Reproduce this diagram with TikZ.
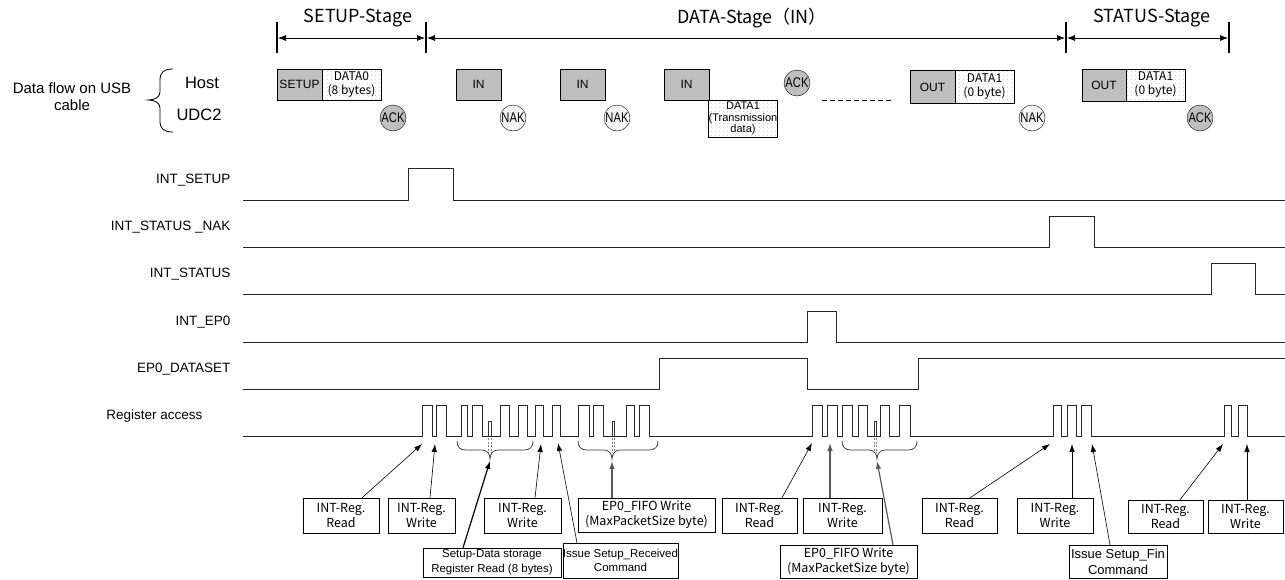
\documentclass[tikz,border=0pt]{standalone}
\usepackage{fontspec}
\setmainfont{Liberation Sans}
\newfontfamily\jp{Noto Sans CJK JP}
\usetikzlibrary{arrows.meta,patterns.meta}
\newcommand{\fs}[2]{\fontsize{#1}{#2}\selectfont}
\newcommand{\hbr}[3]{%
  \draw[line width=0.7pt,black!80] (#1,441) .. controls (#1,447) and ({#1+3},450) .. ({#1+9},450) -- ({#2-8},450)
    .. controls ({#2-3},450) and (#2,454) .. (#2,459) .. controls (#2,454) and ({#2+3},450) .. ({#2+8},450)
    -- ({#3-9},450) .. controls ({#3-3},450) and (#3,447) .. (#3,441);}
\newcommand{\brk}[1]{%
  \draw[line width=0.6pt,black!80] (#1,436) -- (#1,421) -- ({#1+2.5},421) -- ({#1+2.5},436);
  \draw[line width=0.5pt,gray,dash pattern=on 2pt off 1.5pt] (#1,438) -- (#1,453) ({#1+2.5},438) -- ({#1+2.5},453);}
\newcommand{\cl}[1]{\scalebox{0.8}[1]{#1}}
\begin{document}
\begin{tikzpicture}[x=1pt,y=-1pt,
  wave/.style={line width=0.9pt,draw=black!85},
  gbox/.style={draw,fill=gray!50,inner sep=0pt,font=\fs{12}{14}},
  dbox/.style={draw,pattern={Dots[distance=4pt,radius=0.45pt]},pattern color=gray!80,inner sep=0pt,align=center},
  ackc/.style={circle,draw,fill=gray!50,minimum size=26pt,inner sep=0pt,font=\fs{14}{15}},
  nakc/.style={circle,draw,pattern={Lines[angle=45,distance=2.5pt,line width=0.5pt]},pattern color=gray!30,minimum size=26pt,inner sep=0pt,font=\fs{14}{15}},
  lbox/.style={draw,inner sep=0pt,align=center,font=\jp\fs{12.5}{15}},
  abox/.style={draw,inner sep=0pt,align=center},
  arr/.style={-{Latex[length=8pt,width=5.5pt]},line width=0.6pt},
  arrb/.style={arr,line width=1.2pt},
  sig/.style={anchor=east,font=\fs{13.5}{15}},
  stg/.style={{Latex[length=8pt,width=6pt]}-{Latex[length=8pt,width=6pt]},line width=0.7pt},
  bar/.style={line width=1.6pt}
]
\useasboundingbox (0,0) rectangle (1285,579);

% ---- stages ----
\draw[bar] (277,22) -- (277,53);
\draw[bar] (426,22) -- (426,53);
\draw[bar] (1066,22) -- (1066,53);
\draw[bar] (1229,22) -- (1229,53);
\coordinate (b1r) at (278,38);
\coordinate (b2l) at (425,38);
\coordinate (b2r) at (427,38);
\coordinate (b3l) at (1065,38);
\coordinate (b3r) at (1067,38);
\coordinate (b4l) at (1228,38);
\draw[stg] (b1r) -- (b2l);
\draw[stg] (b2r) -- (b3l);
\draw[stg] (b3r) -- (b4l);
\node[font=\jp\fs{18}{20}] (st1) at (358,18) {SETUP-Stage};
\node[font=\jp\fs{18}{20}] (st2) at (752,18) {DATA-Stage（IN）};
\node[font=\jp\fs{18}{20}] (st3) at (1152,18) {STATUS-Stage};

% ---- data flow ----
\node[align=center,font=\fs{15}{17}] (df) at (72,97) {Data flow on USB\\cable};
\draw[line width=0.8pt] (173,69) .. controls (164,69) and (160,72) .. (160,80) -- (160,92)
  .. controls (160,97) and (155,100) .. (148,100) .. controls (155,100) and (160,103) .. (160,108)
  -- (160,121) .. controls (160,129) and (164,132) .. (173,132);
\node[font=\fs{16.5}{18}] (host) at (202,83) {Host};
\node[font=\fs{16.5}{18}] (udc) at (199,115) {UDC2};

\node[gbox,minimum width=45pt,minimum height=31pt] (setup) at (299.5,84.5) {SETUP};
\node[dbox,minimum width=59pt,minimum height=31pt,font=\jp\fs{12}{14}] (d0) at (351.5,84.5) {DATA0\\(8 bytes)};
\node[ackc] (ack1) at (393,118) {\cl{ACK}};

\node[gbox,minimum width=45pt,minimum height=31pt] (in1) at (478.5,84.5) {IN};
\node[nakc] (nak1) at (513,118) {\cl{NAK}};
\node[gbox,minimum width=45pt,minimum height=31pt] (in2) at (582.5,84.5) {IN};
\node[nakc] (nak2) at (617,118) {\cl{NAK}};
\node[gbox,minimum width=45pt,minimum height=31pt] (in3) at (686.5,84.5) {IN};
\node[dbox,minimum width=68pt,minimum height=37pt,font=\fs{11}{11.5}] (d1t) at (743,118.5) {DATA1\\(Transmission\\data)};
\node[ackc] (ack2) at (797,83) {\cl{ACK}};
\draw[line width=0.6pt,dash pattern=on 5pt off 3pt] (822,100) -- (892,100);

\node[gbox,minimum width=45pt,minimum height=33pt] (out1) at (932.5,87) {OUT};
\node[dbox,minimum width=59pt,minimum height=33pt,font=\jp\fs{12}{14}] (d1a) at (984.5,87) {DATA1\\(0 byte)};
\node[nakc] (nak3) at (1032,118) {\cl{NAK}};

\node[gbox,minimum width=44pt,minimum height=32pt] (out2) at (1104,85) {OUT};
\node[dbox,minimum width=59pt,minimum height=32pt,font=\jp\fs{12}{14}] (d1b) at (1155.5,85) {DATA1\\(0 byte)};
\node[ackc] (ack3) at (1200,118) {\cl{ACK}};

% ---- signal labels ----
\node[sig] (l1) at (234,180) {INT\_SETUP};
\node[sig] (l2) at (234,227) {INT\_STATUS \_NAK};
\node[sig] (l3) at (234,274) {INT\_STATUS};
\node[sig] (l4) at (234,322) {INT\_EP0};
\node[sig] (l5) at (234,369) {EP0\_DATASET};
\node[sig] (l6) at (206,416) {Register access};

% ---- waveforms ----
\draw[wave] (243,200) -- (408,200) -- (408,168) -- (453,168) -- (453,200) -- (1285,200);
\draw[wave] (243,247) -- (1049,247) -- (1049,216) -- (1094,216) -- (1094,247) -- (1285,247);
\draw[wave] (243,294) -- (1211,294) -- (1211,263) -- (1255,263) -- (1255,294) -- (1285,294);
\draw[wave] (243,342) -- (807,342) -- (807,311) -- (836,311) -- (836,342) -- (1285,342);
\draw[wave] (243,389) -- (659,389) -- (659,358) -- (807,358) -- (807,389) -- (918,389) -- (918,358) -- (1285,358);
\draw[wave] (243,436) foreach \a/\b in {422/432,436/446,461/467,472/482,500/509,518/527,535/543,552/560,578/589,593/603,626/634,639/649,812/822,827/837,842/852,858/867,880/889,899/910,1053/1061,1067/1076,1081/1091,1224/1231,1238/1247} { -- (\a,436) -- (\a,405) -- (\b,405) -- (\b,436) } -- (1285,436);
\brk{488.5}
\brk{612}
\brk{874}
\hbr{457}{490}{533}
\hbr{578}{612}{658}
\hbr{842}{877}{917}

% ---- arrow targets ----
\coordinate (t1) at (422,444);
\coordinate (t2) at (435,444);
\coordinate (t3) at (490,461);
\coordinate (t4) at (541,444);
\coordinate (t5) at (558,443);
\coordinate (t6) at (612,461);
\coordinate (t7) at (812,443);
\coordinate (t8) at (830,443);
\coordinate (t9) at (877,461);
\coordinate (t10) at (1050,444);
\coordinate (t11) at (1072,444);
\coordinate (t12) at (1092,444);
\coordinate (t13) at (1223,444);
\coordinate (t14) at (1247,444);

% ---- label boxes ----
\node[lbox,minimum width=76pt,minimum height=35pt] (rr1) at (341,515.5) {INT-Reg.\\Read};
\node[lbox,minimum width=67pt,minimum height=35pt] (rw1) at (421.5,515.5) {INT-Reg.\\Write};
\node[abox,minimum width=138pt,minimum height=29pt,font=\fs{11.5}{15}] (sd) at (492,562.5) {Setup-Data storage\\Register Read (8 bytes)};
\node[lbox,minimum width=77pt,minimum height=35pt] (rw2) at (522.5,515.5) {INT-Reg.\\Write};
\node[abox,minimum width=109pt,minimum height=35pt,font=\fs{11.5}{14}] (sr) at (620.5,560.5) {Issue Setup\_Received\\Command};
\node[lbox,minimum width=137pt,minimum height=34pt] (f1) at (646.5,515) {EP0\_FIFO Write\\(MaxPacketSize byte)};
\node[lbox,minimum width=75pt,minimum height=35pt] (rr2) at (759.5,515.5) {INT-Reg.\\Read};
\node[lbox,minimum width=79pt,minimum height=35pt] (rw2b) at (842.5,515.5) {INT-Reg.\\Write};
\node[lbox,minimum width=137pt,minimum height=33pt] (f2) at (848.5,561.5) {EP0\_FIFO Write\\(MaxPacketSize byte)};
\node[lbox,minimum width=75pt,minimum height=35pt] (rr3) at (959.5,515.5) {INT-Reg.\\Read};
\node[lbox,minimum width=76pt,minimum height=35pt] (rw3) at (1055,515.5) {INT-Reg.\\Write};
\node[abox,minimum width=98pt,minimum height=33pt,font=\fs{13}{16}] (fin) at (1118,561.5) {Issue Setup\_Fin\\Command};
\node[lbox,minimum width=75pt,minimum height=33pt] (rr4) at (1165.5,516.5) {INT-Reg.\\Read};
\node[lbox,minimum width=75pt,minimum height=33pt] (rw4) at (1245.5,516.5) {INT-Reg.\\Write};

% ---- arrows ----
\draw[arr] ([xshift=21pt]rr1.north) -- (t1);
\draw[arr] ([xshift=8.5pt]rw1.north) -- (t2);
\draw[arrb] ([xshift=-29pt]sd.north) -- (t3);
\draw[arr] ([xshift=12.5pt]rw2.north) -- (t4);
\draw[arr] ([xshift=-43.5pt]sr.north) -- (t5);
\draw[arrb,draw=black!65] ([xshift=-34.5pt]f1.north) -- (t6);
\draw[arr] ([xshift=22.5pt]rr2.north) -- (t7);
\draw[arrb,draw=black!65] ([xshift=-12.5pt]rw2b.north) -- (t8);
\draw[arrb,draw=black!65] ([xshift=44.5pt]f2.north) -- (t9);
\draw[arr] ([xshift=10.5pt]rr3.north) -- (t10);
\draw[arr] ([xshift=17pt]rw3.north) -- (t11);
\draw[arr] ([xshift=-8pt]fin.north) -- (t12);
\draw[arr] ([xshift=14.5pt]rr4.north) -- (t13);
\draw[arr] ([xshift=1.5pt]rw4.north) -- (t14);
\end{tikzpicture}
\end{document}
